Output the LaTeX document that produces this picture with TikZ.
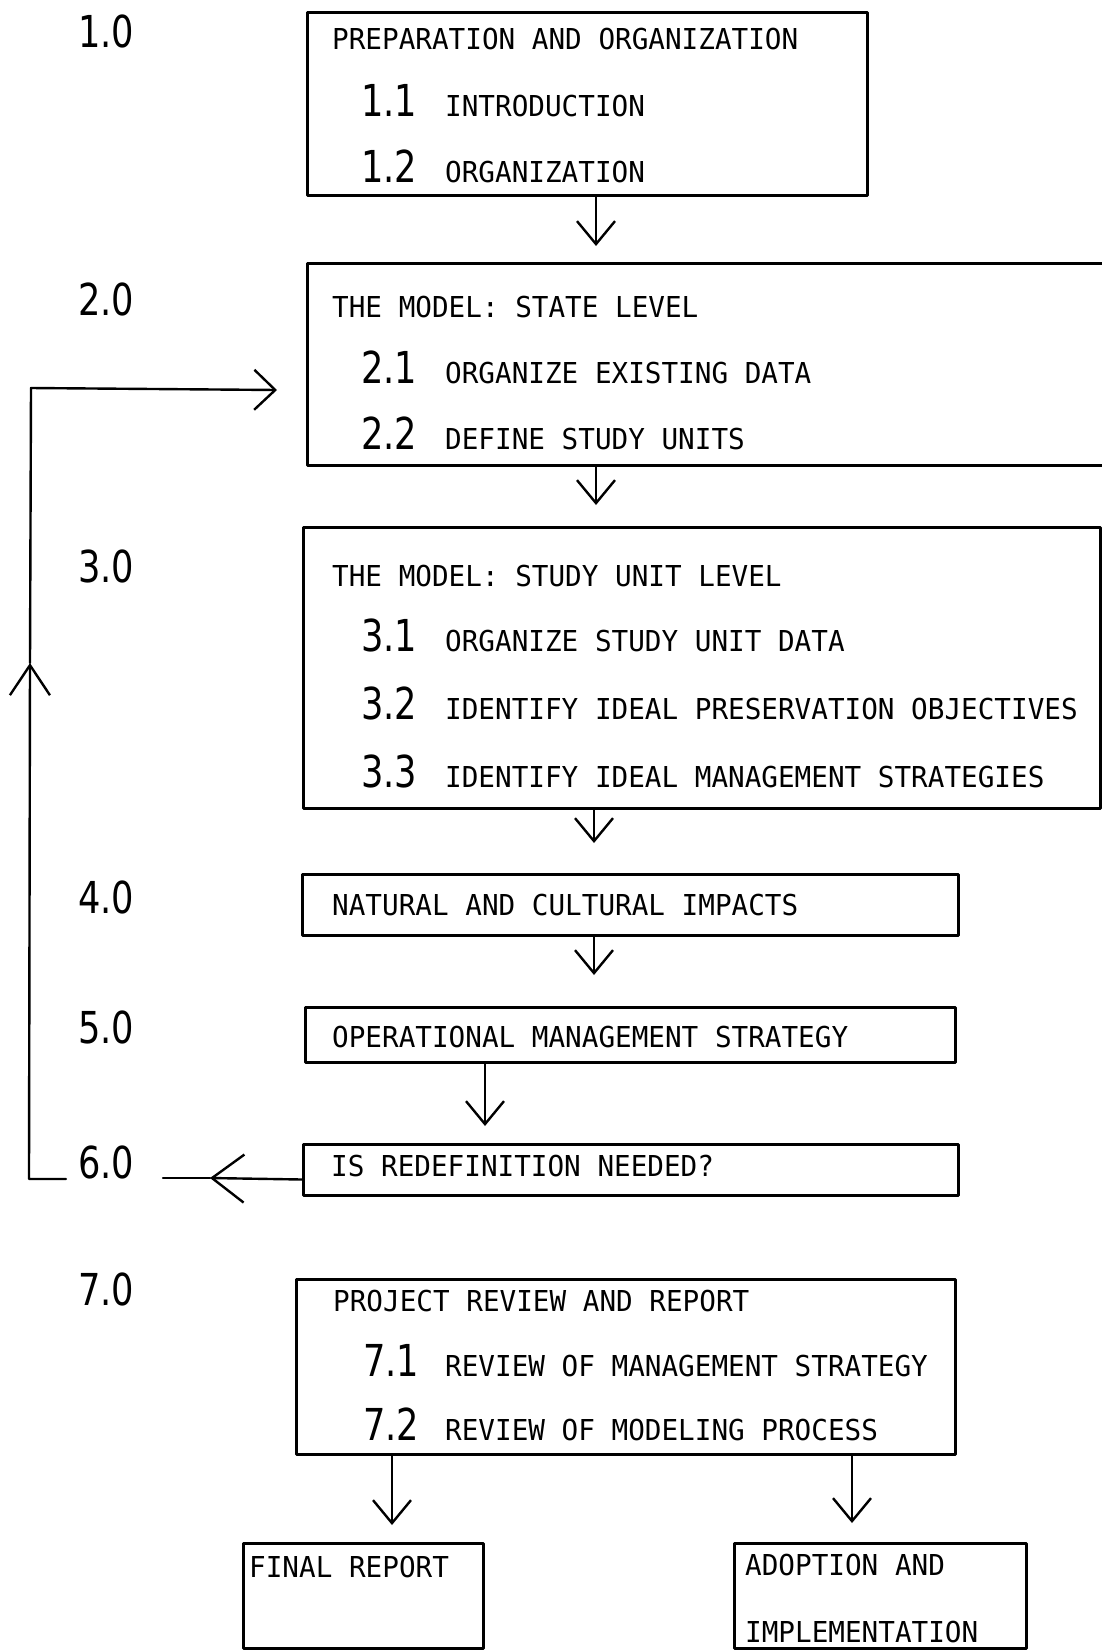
\documentclass[tikz,border=0pt]{standalone}
\usepackage{fontspec}
\usetikzlibrary{arrows.meta,calc}
% plotter-style lettering
\newfontfamily\plotfont[FakeStretch=0.96]{DejaVu Sans Mono}
\newfontfamily\plotnum[FakeStretch=0.8]{DejaVu Sans}
\newcommand{\txtfont}{\plotfont\fontsize{28.8}{34}\selectfont}
\newcommand{\numfont}{\plotnum\fontsize{44}{50}\selectfont}

\begin{document}
\begin{tikzpicture}[x=1pt,y=-1pt,
  line cap=round, line join=round,
  box/.style={rectangle, draw, line width=3pt, inner sep=0pt, anchor=north west},
  openbox/.style={rectangle, inner sep=0pt, anchor=north west},
  txt/.style={anchor=base west, inner sep=0pt, font=\txtfont},
  num/.style={anchor=base west, inner sep=0pt, font=\numfont},
  wire/.style={line width=2.4pt},
  arr/.style={wire, -{Straight Barb[length=23pt,width=38pt,line width=2.4pt]}},
  arrup/.style={wire, -{Straight Barb[length=30pt,width=40pt,line width=2.4pt]}},
  arrin/.style={wire, -{Straight Barb[length=21pt,width=40pt,line width=2.4pt]}},
  arrback/.style={wire, -{Straight Barb[length=32pt,width=48pt,line width=2.4pt]}},
]
\path[fill=white, use as bounding box] (0,0) rectangle (1102,1650);

% ---- step boxes ----
\node[box, minimum width=560, minimum height=183] (b1) at (306,11) {};
\node[openbox, minimum width=800, minimum height=202] (b2) at (307,263) {};
\draw[line width=3pt] (b2.north east) -- (b2.north west) -- (b2.south west) -- (b2.south east);
\node[box, minimum width=797, minimum height=281] (b3) at (302,526) {};
\node[box, minimum width=656, minimum height=61] (b4) at (301,873) {};
\node[box, minimum width=650, minimum height=55] (b5) at (304,1006) {};
\node[box, minimum width=655, minimum height=51] (b6) at (302,1143) {};
\node[box, minimum width=659, minimum height=175] (b7) at (295,1278) {};
\node[box, minimum width=240, minimum height=105] (b8) at (242,1542) {};
\node[box, minimum width=292, minimum height=105] (b9) at (733,1542) {};

% ---- step numbers ----
\node[num] (n1) at (78,47) {1.0};
\node[num] (n2) at (78,315) {2.0};
\node[num] (n3) at (78,582) {3.0};
\node[num] (n4) at (78,913) {4.0};
\node[num] (n5) at (78,1043) {5.0};
\node[num] (n6) at (78,1178) {6.0};
\node[num] (n7) at (78,1305) {7.0};

% ---- box texts ----
\node[txt] (t1) at (332,49) {PREPARATION AND ORGANIZATION};
\node[num] (n11) at (361,116) {1.1};
\node[txt] (t11) at (445,116) {INTRODUCTION};
\node[num] (n12) at (361,182) {1.2};
\node[txt] (t12) at (445,182) {ORGANIZATION};

\node[txt] (t2) at (332,317) {THE MODEL: STATE LEVEL};
\node[num] (n21) at (361,383) {2.1};
\node[txt] (t21) at (445,383) {ORGANIZE EXISTING DATA};
\node[num] (n22) at (361,449) {2.2};
\node[txt] (t22) at (445,449) {DEFINE STUDY UNITS};

\node[txt] (t3) at (332,586) {THE MODEL: STUDY UNIT LEVEL};
\node[num] (n31) at (361,651) {3.1};
\node[txt] (t31) at (445,651) {ORGANIZE STUDY UNIT DATA};
\node[num] (n32) at (361,719) {3.2};
\node[txt] (t32) at (445,719) {IDENTIFY IDEAL PRESERVATION OBJECTIVES};
\node[num] (n33) at (361,787) {3.3};
\node[txt] (t33) at (445,787) {IDENTIFY IDEAL MANAGEMENT STRATEGIES};

\node[txt] (t4) at (332,915) {NATURAL AND CULTURAL IMPACTS};
\node[txt] (t5) at (332,1047) {OPERATIONAL MANAGEMENT STRATEGY};
\node[txt] (t6) at (331,1176) {IS REDEFINITION NEEDED?};

\node[txt] (t7) at (333,1311) {PROJECT REVIEW AND REPORT};
\node[num] (n71) at (363,1376) {7.1};
\node[txt] (t71) at (445,1376) {REVIEW OF MANAGEMENT STRATEGY};
\node[num] (n72) at (363,1440) {7.2};
\node[txt] (t72) at (445,1440) {REVIEW OF MODELING PROCESS};

\node[txt] (t8) at (249,1577) {FINAL REPORT};
\node[txt] (t9a) at (745,1575) {ADOPTION AND};
\node[txt] (t9b) at (745,1642) {IMPLEMENTATION};

% ---- flow arrows ----
\coordinate (xa) at (596,0);
\coordinate (xb) at (594,0);
\coordinate (xc) at (485,0);
\coordinate (xd) at (392,0);
\coordinate (xe) at (852,0);
\draw[arr, shorten >=17pt] (b1.south -| xa) -- (b2.north -| xa);
\draw[arr, shorten >=21pt] (b2.south -| xa) -- (b3.north -| xa);
\draw[arr, shorten >=30pt] (b3.south -| xb) -- (b4.north -| xb);
\draw[arr, shorten >=31pt] (b4.south -| xb) -- (b5.north -| xb);
\draw[arr, shorten >=17pt] (b5.south -| xc) -- (b6.north -| xc);
\draw[arr, shorten >=17pt] (b7.south -| xd) -- (b8.north -| xd);
\draw[arr, shorten >=19pt] (b7.south -| xe) -- (b9.north -| xe);

% ---- redefinition loop ----
\coordinate (r6) at (210,1178);
\coordinate (r6e) at (163,1178);
\draw[arrback] ([yshift=-9.5pt]b6.west) -- (r6);
\draw[wire] (r6) -- (r6e);

\coordinate (q0) at (66,1179);
\coordinate (q1) at (29,1179);
\coordinate (q2) at (30,663);
\coordinate (q3) at (31,388);
\coordinate (q4) at (277,390);
\draw[arrup] (q0) -- (q1) -- (q2);
\draw[arrin] (q2) -- (q3) -- (q4);
\end{tikzpicture}
\end{document}
